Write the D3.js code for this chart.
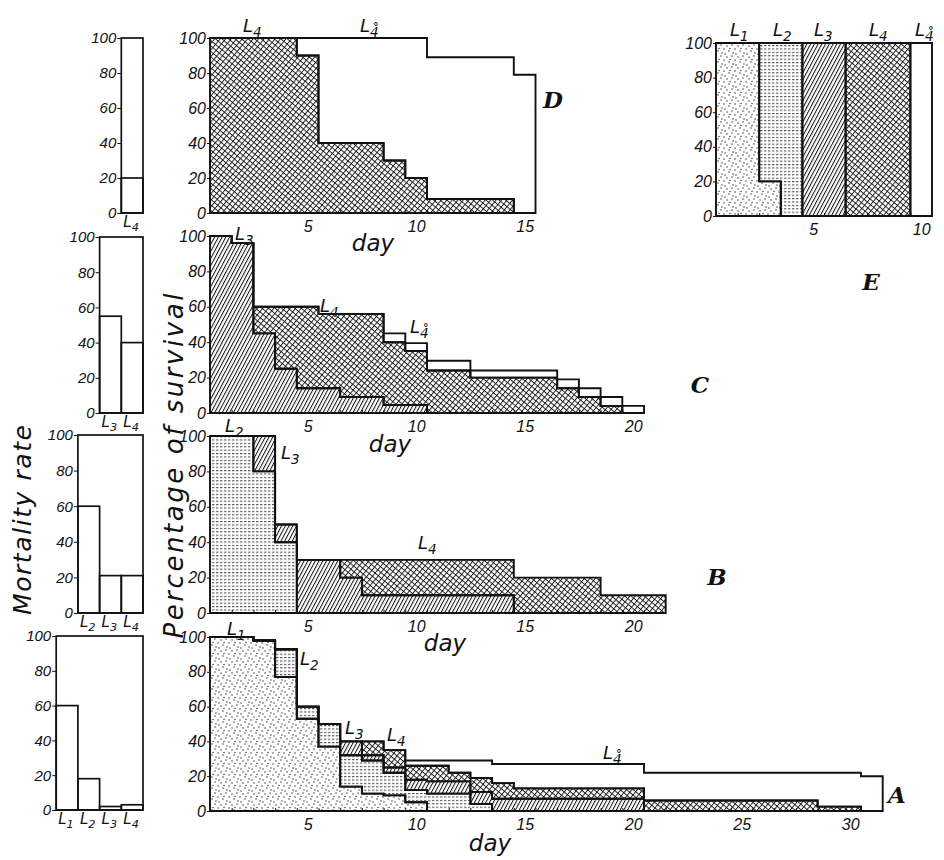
<!DOCTYPE html>
<html>
<head>
<meta charset="utf-8">
<script src="https://cdn.jsdelivr.net/npm/d3@7"></script>
<style>
  body { margin: 0; background: #fff; }
  text { font-family: 'DejaVu Sans', 'Liberation Sans', sans-serif; font-style: italic; fill: #111; }
  .num { font-family: 'Liberation Sans', 'DejaVu Sans', sans-serif; }
</style>
</head>
<body>
<script>
// ---- data: percentage of survival per day, by larval stage ----
const pctTicks = [0, 20, 40, 60, 80, 100];

// panel A (31 days)
const daysA = d3.range(1, 32);
const A_L1 = [100, 100, 98, 77, 53, 37, 14, 10, 9, 5, 0, 0, 0, 0, 0, 0, 0, 0, 0, 0, 0, 0, 0, 0, 0, 0, 0, 0, 0, 0, 0];
const A_L2 = [0, 0, 0, 16, 7, 13, 18, 19, 13, 7, 10, 10, 4, 0, 0, 0, 0, 0, 0, 0, 0, 0, 0, 0, 0, 0, 0, 0, 0, 0, 0];
const A_L3 = [0, 0, 0, 0, 0, 0, 8, 3, 3, 6, 7, 7, 7, 7, 7, 7, 7, 7, 7, 7, 0, 0, 0, 0, 0, 0, 0, 0, 0, 0, 0];
const A_L4 = [0, 0, 0, 0, 0, 0, 0, 8, 10, 8, 9, 5, 8, 9, 6, 6, 6, 6, 6, 6, 6, 6, 6, 6, 6, 6, 6, 6, 2.5, 2.5, 0];
const A_L4o = [0, 0, 0, 0, 0, 0, 0, 0, 0, 3, 3, 7, 10, 11, 14, 14, 14, 14, 14, 14, 16, 16, 16, 16, 16, 16, 16, 16, 19.5, 19.5, 20];
const A_ticks = [5, 10, 15, 20, 25, 30];

// panel B (21 days)
const daysB = d3.range(1, 22);
const B_L2 = [100, 100, 80, 40, 0, 0, 0, 0, 0, 0, 0, 0, 0, 0, 0, 0, 0, 0, 0, 0, 0];
const B_L3 = [0, 0, 20, 10, 30, 30, 20, 10, 10, 10, 10, 10, 10, 10, 0, 0, 0, 0, 0, 0, 0];
const B_L4 = [0, 0, 0, 0, 0, 0, 10, 20, 20, 20, 20, 20, 20, 20, 20, 20, 20, 20, 10, 10, 10];
const B_ticks = [5, 10, 15, 20];

// panel C (20 days)
const daysC = d3.range(1, 21);
const C_L3 = [100, 96, 45, 25, 14, 14, 9, 9, 4.5, 4.5, 0, 0, 0, 0, 0, 0, 0, 0, 0, 0];
const C_L4 = [0, 0, 15, 35, 46, 42, 47, 47, 35.5, 30.5, 24, 24, 20, 20, 20, 20, 14, 9, 4, 0];
const C_L4o = [0, 0, 0, 0, 0, 0, 0, 0, 5, 4.5, 5.5, 5.5, 4, 4, 4, 4, 5, 5, 5, 4];
const C_ticks = [5, 10, 15, 20];

// panel D (15 days)
const daysD = d3.range(1, 16);
const D_L4 = [100, 100, 100, 100, 90, 40, 40, 40, 30, 20, 8, 8, 8, 8, 0];
const D_L4o = [0, 0, 0, 0, 10, 60, 60, 60, 70, 80, 81, 81, 81, 81, 79];
const D_ticks = [5, 10, 15];

// panel E (10 days)
const daysE = d3.range(1, 11);
const E_L1 = [100, 100, 20, 0, 0, 0, 0, 0, 0, 0];
const E_L2 = [0, 0, 80, 100, 0, 0, 0, 0, 0, 0];
const E_L3 = [0, 0, 0, 0, 100, 100, 0, 0, 0, 0];
const E_L4 = [0, 0, 0, 0, 0, 0, 100, 100, 100, 0];
const E_L4o = [0, 0, 0, 0, 0, 0, 0, 0, 0, 100];
const E_ticks = [5, 10];

// mortality rate per stage (small bar charts on the left)
const mortA_stages = ["L1", "L2", "L3", "L4"], mortA = [60, 18, 2, 3];
const mortB_stages = ["L2", "L3", "L4"], mortB = [60, 21, 21];
const mortC_stages = ["L3", "L4"], mortC = [55, 40];
const mortD_stages = ["L4"], mortD = [20];

// ---- drawing ----
const svg = d3.select("body").append("svg")
  .attr("width", 944).attr("height", 860)
  .style("background", "#fff");

// hatch patterns for the stages
const defs = svg.append("defs");
const dots = defs.append("pattern").attr("id", "dots")
  .attr("patternUnits", "userSpaceOnUse").attr("width", 11).attr("height", 11);
[[1, 2], [6, 1], [9, 5], [3, 7], [7, 9], [4, 4.5], [10, 10]].forEach(d =>
  dots.append("circle").attr("cx", d[0]).attr("cy", d[1]).attr("r", 0.7).attr("fill", "#222"));

const dash = defs.append("pattern").attr("id", "dash")
  .attr("patternUnits", "userSpaceOnUse").attr("width", 4).attr("height", 3.4);
dash.append("rect").attr("x", 0).attr("y", 1).attr("width", 2.4).attr("height", 0.9).attr("fill", "#333");

const hatch = defs.append("pattern").attr("id", "hatch")
  .attr("patternUnits", "userSpaceOnUse").attr("width", 3.3).attr("height", 10)
  .attr("patternTransform", "rotate(28)");
hatch.append("line").attr("x1", 0.5).attr("y1", 0).attr("x2", 0.5).attr("y2", 10)
  .attr("stroke", "#111").attr("stroke-width", 1);

const cross = defs.append("pattern").attr("id", "cross")
  .attr("patternUnits", "userSpaceOnUse").attr("width", 4.2).attr("height", 4.2)
  .attr("patternTransform", "rotate(40)");
cross.append("line").attr("x1", 0.5).attr("y1", 0).attr("x2", 0.5).attr("y2", 4.2)
  .attr("stroke", "#111").attr("stroke-width", 0.9);
cross.append("line").attr("x1", 0).attr("y1", 0.5).attr("x2", 4.2).attr("y2", 0.5)
  .attr("stroke", "#111").attr("stroke-width", 0.9);

const fills = { L1: "url(#dots)", L2: "url(#dash)", L3: "url(#hatch)", L4: "url(#cross)", L4o: "#fff" };

// "L" with subscript; the moulted stage gets a ring above its digit (L4°)
function stageLabel(g, x, y, sub, ring, size) {
  const t = g.append("text").attr("x", x).attr("y", y).style("font-size", size + "px");
  t.append("tspan").text("L");
  t.append("tspan").attr("dy", size * 0.28).style("font-size", (size * 0.75) + "px")
    .text(ring ? sub + "\u030A" : sub);
}

const panels = [
  { days: daysA, keys: ["L1", "L2", "L3", "L4", "L4o"], vals: [A_L1, A_L2, A_L3, A_L4, A_L4o],
    x0: 210, step: 21.7, top: 637, bot: 811, ticks: A_ticks, day: [490, 851], letter: ["A", 897, 803],
    labels: [["1", 227, 635, 0], ["2", 300, 665, 0], ["3", 345, 734, 0], ["4", 387, 741, 0], ["4", 603, 759, 1]] },
  { days: daysB, keys: ["L2", "L3", "L4"], vals: [B_L2, B_L3, B_L4],
    x0: 210, step: 21.7, top: 436, bot: 613, ticks: B_ticks, day: [445, 651], letter: ["B", 717, 585],
    labels: [["2", 225, 432, 0], ["3", 281, 459, 0], ["4", 418, 549, 0]] },
  { days: daysC, keys: ["L3", "L4", "L4o"], vals: [C_L3, C_L4, C_L4o],
    x0: 210, step: 21.7, top: 236, bot: 413, ticks: C_ticks, day: [390, 452], letter: ["C", 700, 393],
    labels: [["3", 235, 240, 0], ["4", 320, 312, 0], ["4", 410, 333, 1]] },
  { days: daysD, keys: ["L4", "L4o"], vals: [D_L4, D_L4o],
    x0: 210, step: 21.7, top: 38, bot: 213, ticks: D_ticks, day: [373, 251], letter: ["D", 553, 108],
    labels: [["4", 243, 32, 0], ["4", 360, 32, 1]] },
  { days: daysE, keys: ["L1", "L2", "L3", "L4", "L4o"], vals: [E_L1, E_L2, E_L3, E_L4, E_L4o],
    x0: 716, step: 21.6, top: 43, bot: 216, ticks: E_ticks, day: null, letter: ["E", 871, 290],
    labels: [["1", 730, 36, 0], ["2", 773, 36, 0], ["3", 814, 36, 0], ["4", 869, 36, 0], ["4", 915, 36, 1]] }
];

panels.forEach(p => {
  const n = p.days.length;
  const g = svg.append("g");
  const x = d3.scaleLinear().domain([0.5, n + 0.5]).range([p.x0, p.x0 + n * p.step]);
  const y = d3.scaleLinear().domain([0, 100]).range([p.bot, p.top]);

  const rows = p.days.map((d, i) => {
    const r = { day: d };
    p.keys.forEach((k, j) => r[k] = p.vals[j][i]);
    return r;
  });
  const series = d3.stack().keys(p.keys)(rows);
  const area = d3.area().x(q => x(q.x)).y0(q => y(q.y0)).y1(q => y(q.y1)).curve(d3.curveStepAfter);
  const shapes = series.map(s => {
    const pts = s.map((v, i) => ({ x: p.days[i] - 0.5, y0: v[0], y1: v[1] }));
    const last = pts[pts.length - 1];
    pts.push({ x: last.x + 1, y0: last.y0, y1: last.y1 });
    return { key: s.key, d: area(pts) };
  });
  g.selectAll("path.fill").data(shapes).join("path").attr("class", "fill")
    .attr("d", s => s.d).attr("fill", s => fills[s.key]);
  g.selectAll("path.edge").data(shapes).join("path").attr("class", "edge")
    .attr("d", s => s.d).attr("fill", "none").attr("stroke", "#111")
    .attr("stroke-width", 1.9).attr("stroke-linejoin", "miter");

  // small inward ticks at day boundaries
  g.append("g").attr("transform", `translate(0,${p.bot})`)
    .call(d3.axisBottom(x).tickValues(p.days.slice(1).map(d => d - 0.5)).tickSize(-3).tickFormat(""))
    .call(a => a.select(".domain").remove())
    .selectAll("line").attr("stroke", "#111");

  // day labels
  g.append("g").attr("transform", `translate(0,${p.bot})`)
    .call(d3.axisBottom(x).tickValues(p.ticks).tickSize(0).tickPadding(8))
    .call(a => a.select(".domain").remove())
    .selectAll("text").attr("class", "num").style("font-size", "16px").style("font-family", null);

  // percentage axis
  g.append("g").attr("transform", `translate(${p.x0},0)`)
    .call(d3.axisLeft(y).tickValues(pctTicks).tickSize(3).tickPadding(1))
    .call(a => a.select(".domain").remove())
    .call(a => a.selectAll("line").attr("stroke", "#111"))
    .selectAll("text").attr("class", "num").style("font-size", "16px").style("font-family", null);

  if (p.day) {
    g.append("text").attr("x", p.day[0]).attr("y", p.day[1]).attr("text-anchor", "middle")
      .style("font-size", "23px").text("day");
  }
  g.append("text").attr("x", p.letter[1]).attr("y", p.letter[2]).attr("text-anchor", "middle")
    .style("font-family", "'DejaVu Serif', 'Liberation Serif', serif").style("font-weight", "bold")
    .style("font-size", "23px").text(p.letter[0]);

  p.labels.forEach(l => stageLabel(g, l[1], l[2], l[0], l[3], 18));
});

// mortality rate bar charts
const morts = [
  { stages: mortA_stages, vals: mortA, top: 636, bot: 810 },
  { stages: mortB_stages, vals: mortB, top: 435, bot: 613 },
  { stages: mortC_stages, vals: mortC, top: 237, bot: 413 },
  { stages: mortD_stages, vals: mortD, top: 38, bot: 213 }
];
morts.forEach(m => {
  const g = svg.append("g");
  const right = 143, bw = 21.7;
  const xb = d3.scaleBand().domain(m.stages).range([right - m.stages.length * bw, right]);
  const y = d3.scaleLinear().domain([0, 100]).range([m.bot, m.top]);
  g.append("rect").attr("x", xb.range()[0]).attr("y", y(100))
    .attr("width", xb.range()[1] - xb.range()[0]).attr("height", y(0) - y(100))
    .attr("fill", "none").attr("stroke", "#111").attr("stroke-width", 1.7);
  g.selectAll("rect.bar").data(m.stages).join("rect").attr("class", "bar")
    .attr("x", s => xb(s)).attr("width", xb.bandwidth())
    .attr("y", (s, i) => y(m.vals[i])).attr("height", (s, i) => y(0) - y(m.vals[i]))
    .attr("fill", "none").attr("stroke", "#111").attr("stroke-width", 1.7);
  g.append("g").attr("transform", `translate(${xb.range()[0]},0)`)
    .call(d3.axisLeft(y).tickValues(pctTicks).tickSize(4).tickPadding(1))
    .call(a => a.select(".domain").remove())
    .call(a => a.selectAll("line").attr("stroke", "#111"))
    .selectAll("text").attr("class", "num").style("font-size", "15px").style("font-family", null);
  m.stages.forEach(s => stageLabel(g, xb(s) + 2, m.bot + 14, s.slice(1), false, 15));
});

// axis titles
svg.append("text").attr("transform", "translate(31,520) rotate(-90)").attr("text-anchor", "middle")
  .attr("textLength", 190).attr("lengthAdjust", "spacing")
  .style("font-size", "25px").text("Mortality  rate");
svg.append("text").attr("transform", "translate(183,466) rotate(-90)").attr("text-anchor", "middle")
  .attr("textLength", 345).attr("lengthAdjust", "spacing")
  .style("font-size", "26px").text("Percentage of survival");
</script>
</body>
</html>
